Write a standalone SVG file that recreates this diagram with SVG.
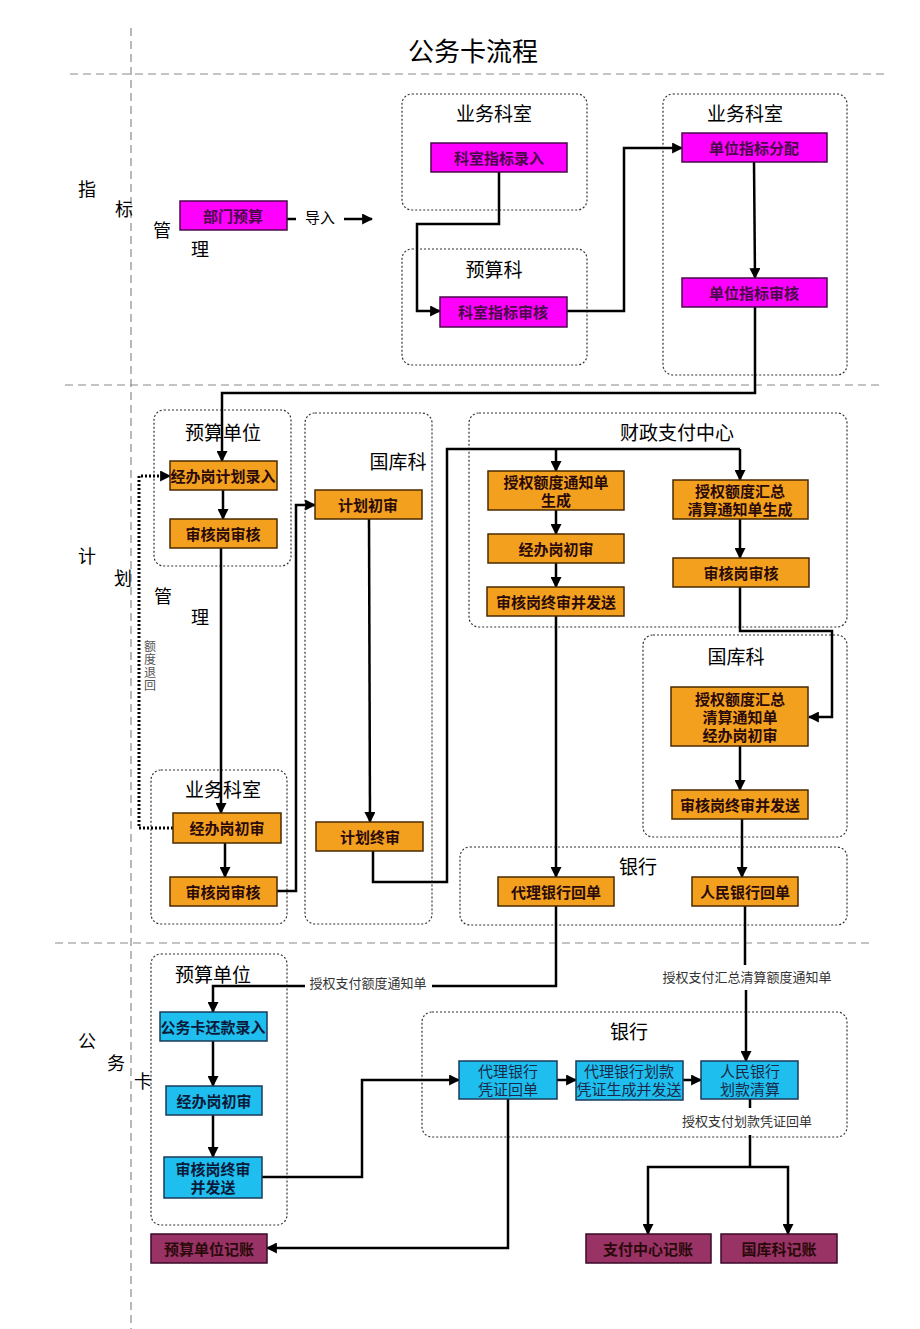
<svg xmlns="http://www.w3.org/2000/svg" width="920" height="1329" viewBox="0 0 920 1329">
<defs>
<style>
text{font-family:"Liberation Sans","Noto Sans CJK SC",sans-serif;fill:#000}
.title{font-size:26px;text-anchor:middle}
.side{font-size:18px;text-anchor:middle;dominant-baseline:central}
.gt{font-size:19px;text-anchor:middle;dominant-baseline:central}
.bt{font-size:15px;font-weight:bold;text-anchor:middle;dominant-baseline:central;fill:#2a0a0a}
.bl{font-size:15px;text-anchor:middle;dominant-baseline:central;fill:#1a2a4a}
.lab{font-size:13px;text-anchor:middle;dominant-baseline:central;fill:#333}
.sep{stroke:#8a8a8a;stroke-width:1.2;stroke-dasharray:8 5;fill:none}
.grp{fill:none;stroke:#333;stroke-width:1.2;stroke-dasharray:2 2}
.mag{fill:#FF00FF;stroke:#4a0a4a;stroke-width:1.5}
.org{fill:#F3A01E;stroke:#4a2a00;stroke-width:1.5}
.cyn{fill:#1EBEEE;stroke:#1a3a5a;stroke-width:1.5}
.mar{fill:#993366;stroke:#3a0a2a;stroke-width:1.5}
.ln{fill:none;stroke:#000;stroke-width:2.5}
.arr{fill:none;stroke:#000;stroke-width:2.5;marker-end:url(#ah)}
.dot{fill:none;stroke:#000;stroke-width:3;stroke-dasharray:2 2;marker-end:url(#ah)}
</style>
<marker id="ah" viewBox="0 0 10 10" refX="9" refY="5" markerWidth="11" markerHeight="11" markerUnits="userSpaceOnUse" orient="auto"><path d="M0,0 L10,5 L0,10 z" fill="#000"/></marker>
</defs>
<rect width="920" height="1329" fill="#fff"/>

<text class="title" x="473" y="61">公务卡流程</text>

<g id="separators">
<line class="sep" x1="131" y1="28" x2="131" y2="1329"/>
<line class="sep" x1="70" y1="74" x2="885" y2="74"/>
<line class="sep" x1="65" y1="385" x2="880" y2="385"/>
<line class="sep" x1="55" y1="943" x2="870" y2="943"/>
</g>

<g id="section-labels">
<text class="side" x="87" y="190">指</text>
<text class="side" x="124" y="210">标</text>
<text class="side" x="162" y="231">管</text>
<text class="side" x="200" y="250">理</text>
<text class="side" x="87" y="557">计</text>
<text class="side" x="123" y="579">划</text>
<text class="side" x="163" y="597">管</text>
<text class="side" x="200" y="618">理</text>
<text class="side" x="87" y="1042">公</text>
<text class="side" x="116" y="1064">务</text>
<text class="side" x="143" y="1082">卡</text>
</g>

<g id="groups">
<rect class="grp" x="402" y="94" width="185" height="116" rx="10"/>
<text class="gt" x="494" y="114">业务科室</text>
<rect class="grp" x="402" y="249" width="185" height="116" rx="10"/>
<text class="gt" x="494" y="270">预算科</text>
<rect class="grp" x="663" y="94" width="184" height="281" rx="10"/>
<text class="gt" x="745" y="114">业务科室</text>
<rect class="grp" x="154" y="410" width="137" height="156" rx="10"/>
<text class="gt" x="223" y="433">预算单位</text>
<rect class="grp" x="305" y="413" width="127" height="511" rx="10"/>
<text class="gt" x="398" y="462">国库科</text>
<rect class="grp" x="151" y="770" width="136" height="154" rx="10"/>
<text class="gt" x="223" y="790">业务科室</text>
<rect class="grp" x="469" y="413" width="378" height="214" rx="10"/>
<text class="gt" x="677" y="433">财政支付中心</text>
<rect class="grp" x="643" y="635" width="204" height="202" rx="10"/>
<text class="gt" x="736" y="657">国库科</text>
<rect class="grp" x="460" y="847" width="387" height="78" rx="10"/>
<text class="gt" x="638" y="867">银行</text>
<rect class="grp" x="151" y="954" width="136" height="271" rx="10"/>
<text class="gt" x="213" y="975">预算单位</text>
<rect class="grp" x="422" y="1012" width="425" height="125" rx="10"/>
<text class="gt" x="629" y="1032">银行</text>
</g>

<g id="connectors">
<polyline class="ln" points="287,219 296,219"/>
<line class="arr" x1="344" y1="219" x2="372" y2="219"/>
<polyline class="arr" points="499,172 499,224 417,224 417,311 440,311"/>
<polyline class="arr" points="567,311 624,311 624,148 682,148"/>
<line class="arr" x1="754" y1="162" x2="755" y2="278"/>
<polyline class="arr" points="755,307 755,393 222,393 222,461"/>
<line class="arr" x1="223" y1="490" x2="223" y2="519"/>
<line class="arr" x1="221" y1="548" x2="221" y2="813"/>
<line class="arr" x1="225" y1="843" x2="225" y2="877"/>
<polyline class="arr" points="277,891 296,891 296,505 315,505"/>
<polyline class="dot" points="173,828 139,828 139,476 170,476"/>
<line class="arr" x1="369" y1="519" x2="370" y2="822"/>
<polyline class="ln" points="373,851 373,882 447,882 447,449 740,449"/>
<line class="arr" x1="556" y1="449" x2="556" y2="471"/>
<line class="arr" x1="740" y1="449" x2="740" y2="480"/>
<line class="arr" x1="556" y1="510" x2="556" y2="534"/>
<line class="arr" x1="556" y1="563" x2="556" y2="587"/>
<line class="arr" x1="740" y1="519" x2="740" y2="558"/>
<polyline class="arr" points="740,587 740,631 832,631 832,717 809,717"/>
<line class="arr" x1="740" y1="746" x2="740" y2="790"/>
<line class="arr" x1="742" y1="819" x2="742" y2="877"/>
<line class="arr" x1="556" y1="616" x2="556" y2="877"/>
<polyline class="ln" points="556,906 556,986 432,986"/>
<polyline class="arr" points="305,986 213,986 213,1012"/>
<text class="lab" x="368" y="983">授权支付额度通知单</text>
<line class="ln" x1="745" y1="906" x2="745" y2="965"/>
<text class="lab" x="747" y="977">授权支付汇总清算额度通知单</text>
<line class="arr" x1="746" y1="990" x2="746" y2="1061"/>
<line class="arr" x1="213" y1="1041" x2="213" y2="1086"/>
<line class="arr" x1="213" y1="1115" x2="213" y2="1157"/>
<polyline class="arr" points="262,1177 362,1177 362,1080 459,1080"/>
<line class="arr" x1="557" y1="1080" x2="576" y2="1080"/>
<line class="arr" x1="683" y1="1080" x2="701" y2="1080"/>
<polyline class="arr" points="508,1099 508,1248 267,1248"/>
<line class="ln" x1="750" y1="1099" x2="750" y2="1108"/>
<text class="lab" x="747" y="1121">授权支付划款凭证回单</text>
<polyline class="ln" points="750,1135 750,1167"/>
<polyline class="arr" points="750,1167 648,1167 648,1234"/>
<polyline class="arr" points="750,1167 788,1167 788,1234"/>
<text x="150" y="651" style="font-size:12px;fill:#555"><tspan x="144" dy="0">额</tspan><tspan x="144" dy="13">度</tspan><tspan x="144" dy="13">退</tspan><tspan x="144" dy="13">回</tspan></text>
</g>

<g id="n-bmys"><rect class="mag" x="180" y="201" width="107" height="29"/><text class="bt" x="233" y="216" style="fill:#4a0a4a">部门预算</text></g>
<text x="320" y="217" style="font-size:15px;dominant-baseline:central;text-anchor:middle">导入</text>
<g id="n-kszblr"><rect class="mag" x="431" y="143" width="136" height="29"/><text class="bt" x="499" y="158" style="fill:#4a0a4a">科室指标录入</text></g>
<g id="n-kszbsh"><rect class="mag" x="440" y="297" width="127" height="30"/><text class="bt" x="503" y="312" style="fill:#4a0a4a">科室指标审核</text></g>
<g id="n-dwzbfp"><rect class="mag" x="682" y="133" width="145" height="29"/><text class="bt" x="754" y="148" style="fill:#4a0a4a">单位指标分配</text></g>
<g id="n-dwzbsh"><rect class="mag" x="682" y="278" width="145" height="29"/><text class="bt" x="754" y="293" style="fill:#4a0a4a">单位指标审核</text></g>

<g id="n-jbgjhlr"><rect class="org" x="170" y="461" width="107" height="29"/><text class="bt" x="223" y="476">经办岗计划录入</text></g>
<g id="n-shgsh1"><rect class="org" x="170" y="519" width="107" height="29"/><text class="bt" x="223" y="534">审核岗审核</text></g>
<g id="n-jbgcs1"><rect class="org" x="173" y="813" width="108" height="30"/><text class="bt" x="227" y="828">经办岗初审</text></g>
<g id="n-shgsh2"><rect class="org" x="170" y="877" width="107" height="29"/><text class="bt" x="223" y="892">审核岗审核</text></g>
<g id="n-jhcs"><rect class="org" x="315" y="490" width="107" height="29"/><text class="bt" x="368" y="505">计划初审</text></g>
<g id="n-jhzs"><rect class="org" x="316" y="822" width="107" height="29"/><text class="bt" x="370" y="837">计划终审</text></g>
<g id="n-sqedtzd"><rect class="org" x="488" y="471" width="136" height="39"/><text class="bt" x="556" y="482">授权额度通知单</text><text class="bt" x="556" y="500">生成</text></g>
<g id="n-jbgcs2"><rect class="org" x="488" y="534" width="136" height="29"/><text class="bt" x="556" y="549">经办岗初审</text></g>
<g id="n-shgzs1"><rect class="org" x="487" y="587" width="137" height="29"/><text class="bt" x="556" y="602">审核岗终审并发送</text></g>
<g id="n-sqedhz"><rect class="org" x="673" y="480" width="135" height="39"/><text class="bt" x="740" y="491">授权额度汇总</text><text class="bt" x="740" y="509">清算通知单生成</text></g>
<g id="n-shgsh3"><rect class="org" x="673" y="558" width="136" height="29"/><text class="bt" x="741" y="573">审核岗审核</text></g>
<g id="n-gkjbgcs"><rect class="org" x="671" y="687" width="137" height="59"/><text class="bt" x="740" y="699">授权额度汇总</text><text class="bt" x="740" y="717">清算通知单</text><text class="bt" x="740" y="735">经办岗初审</text></g>
<g id="n-shgzs2"><rect class="org" x="672" y="790" width="136" height="29"/><text class="bt" x="740" y="805">审核岗终审并发送</text></g>
<g id="n-dlyhhd"><rect class="org" x="498" y="877" width="116" height="29"/><text class="bt" x="556" y="892">代理银行回单</text></g>
<g id="n-rmyhhd"><rect class="org" x="692" y="877" width="106" height="29"/><text class="bt" x="745" y="892">人民银行回单</text></g>

<g id="n-gwkhklr"><rect class="cyn" x="160" y="1012" width="107" height="29"/><text class="bt" x="213" y="1027" style="fill:#0a1a3a">公务卡还款录入</text></g>
<g id="n-jbgcs3"><rect class="cyn" x="166" y="1086" width="96" height="29"/><text class="bt" x="214" y="1101" style="fill:#0a1a3a">经办岗初审</text></g>
<g id="n-shgzs3"><rect class="cyn" x="164" y="1157" width="98" height="41"/><text class="bt" x="213" y="1169" style="fill:#0a1a3a">审核岗终审</text><text class="bt" x="213" y="1187" style="fill:#0a1a3a">并发送</text></g>
<g id="n-dlyhpzhd"><rect class="cyn" x="459" y="1061" width="98" height="38"/><text class="bl" x="508" y="1071">代理银行</text><text class="bl" x="508" y="1089">凭证回单</text></g>
<g id="n-dlyhhkpz"><rect class="cyn" x="576" y="1061" width="107" height="39"/><text class="bl" x="629" y="1071">代理银行划款</text><text class="bl" x="629" y="1089">凭证生成并发送</text></g>
<g id="n-rmyhhkqs"><rect class="cyn" x="701" y="1061" width="97" height="38"/><text class="bl" x="750" y="1071">人民银行</text><text class="bl" x="750" y="1089">划款清算</text></g>

<g id="n-ysdwjz"><rect class="mar" x="151" y="1234" width="116" height="29"/><text class="bt" x="209" y="1249">预算单位记账</text></g>
<g id="n-zfzxjz"><rect class="mar" x="586" y="1234" width="125" height="29"/><text class="bt" x="648" y="1249">支付中心记账</text></g>
<g id="n-gkkjz"><rect class="mar" x="721" y="1234" width="116" height="29"/><text class="bt" x="779" y="1249">国库科记账</text></g>
</svg>
